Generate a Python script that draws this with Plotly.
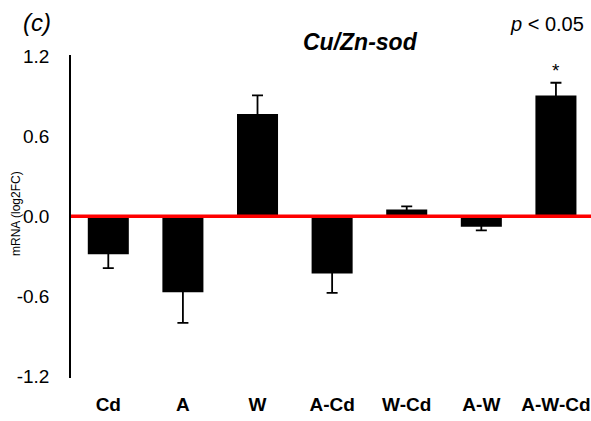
import plotly.graph_objects as go

categories = ["Cd", "A", "W", "A-Cd", "W-Cd", "A-W", "A-W-Cd"]
means = [-0.285, -0.57, 0.765, -0.43, 0.05, -0.08, 0.905]
errors = [0.105, 0.23, 0.14, 0.145, 0.023, 0.027, 0.095]
signif = ["", "", "", "", "", "", "*"]
ytick_vals = [-1.2, -0.6, 0.0, 0.6, 1.2]
ytick_text = ["-1.2", "-0.6", "0.0", "0.6", "1.2"]

# one-sided error bars (away from zero); the inner cap is hidden inside the bar
err_plus = [e if m >= 0 else abs(m) / 2 for m, e in zip(means, errors)]
err_minus = [e if m < 0 else m / 2 for m, e in zip(means, errors)]

FONT = "Liberation Sans, Arial, sans-serif"

fig = go.Figure()
fig.add_trace(go.Bar(
    x=categories, y=means, width=0.55,
    marker=dict(color="black", line=dict(width=0)),
    error_y=dict(type="data", symmetric=False, array=err_plus, arrayminus=err_minus,
                 color="black", thickness=1.8, width=5.5),
    showlegend=False,
))

for c, m, e, s in zip(categories, means, errors, signif):
    if s:
        fig.add_annotation(x=c, y=m + (e if m >= 0 else -e), text=s, showarrow=False,
                           yanchor="bottom", font=dict(family=FONT, size=19, color="black"))

fig.add_shape(type="line", xref="paper", yref="y", x0=0, x1=1, y0=0, y1=0,
              line=dict(color="#ff0000", width=3.5), layer="above")

fig.add_annotation(xref="paper", yref="paper", x=(16 - 71) / 520, y=(378 - 214) / 323,
                   text="mRNA (log2FC)", textangle=-90, showarrow=False,
                   xanchor="center", yanchor="middle",
                   font=dict(family=FONT, size=12, color="black"))
fig.add_annotation(xref="paper", yref="paper", x=(21 - 71) / 520, y=(378 - 23) / 323,
                   text="<i>(c)</i>", showarrow=False, xanchor="left", yanchor="middle",
                   font=dict(family=FONT, size=24, color="black"))
fig.add_annotation(xref="paper", yref="paper", x=(360 - 71) / 520, y=(378 - 42) / 323,
                   text="<b><i>Cu/Zn-sod</i></b>", showarrow=False, xanchor="center", yanchor="middle",
                   font=dict(family=FONT, size=23, color="black"))
fig.add_annotation(xref="paper", yref="paper", x=(547 - 71) / 520, y=(378 - 24) / 323,
                   text="<i>p</i> < 0.05", showarrow=False, xanchor="center", yanchor="middle",
                   font=dict(family=FONT, size=20, color="black"))

fig.update_layout(
    width=591, height=421,
    margin=dict(l=71, r=0, t=55, b=43),
    paper_bgcolor="white", plot_bgcolor="white",
    font=dict(family=FONT, color="black"),
    xaxis=dict(showline=False, ticks="", showgrid=False, zeroline=False,
               range=[-0.5, 6.47], tickfont=dict(family=FONT, size=19, color="black"),
               tickprefix="<b>", ticksuffix="</b>", ticklabelstandoff=13),
    yaxis=dict(range=[-1.213, 1.208], showline=True, linecolor="black", linewidth=1.5,
               ticks="", showgrid=False, zeroline=False,
               tickvals=ytick_vals, ticktext=ytick_text,
               tickfont=dict(family=FONT, size=19, color="black"), ticklabelstandoff=16),
)

fig.write_html("out.html")
